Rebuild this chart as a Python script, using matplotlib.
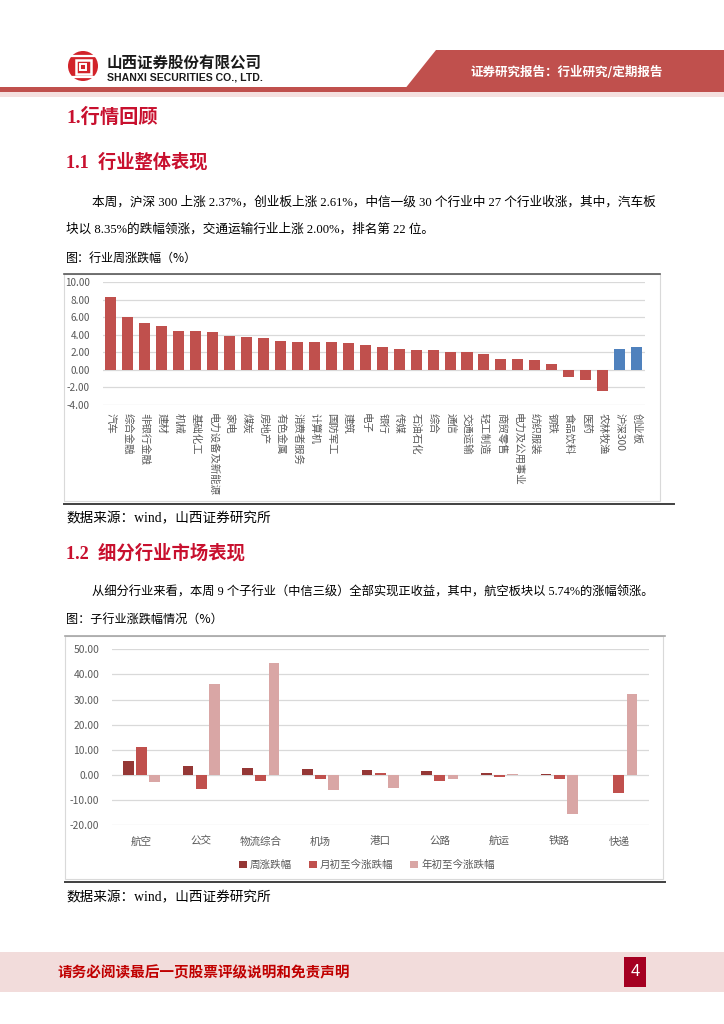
import matplotlib
matplotlib.use("Agg")
import matplotlib.pyplot as plt
import matplotlib.patches as mpatches
import numpy as np

# ---------------- data ----------------
industries = ["汽车", "综合金融", "非银行金融", "建材", "机械", "基础化工", "电力设备及新能源",
              "家电", "煤炭", "房地产", "有色金属", "消费者服务", "计算机", "国防军工", "建筑",
              "电子", "银行", "传媒", "石油石化", "综合", "通信", "交通运输", "轻工制造",
              "商贸零售", "电力及公用事业", "纺织服装", "钢铁", "食品饮料", "医药", "农林牧渔",
              "沪深300", "创业板"]
weekly_change = [8.35, 6.01, 5.40, 5.06, 4.44, 4.43, 4.37, 3.83, 3.79, 3.68, 3.30, 3.22,
                 3.18, 3.14, 3.03, 2.84, 2.63, 2.34, 2.26, 2.25, 2.03, 2.00, 1.84, 1.30,
                 1.29, 1.11, 0.73, -0.84, -1.11, -2.37, 2.37, 2.61]
index_names = ["沪深300", "创业板"]
y1_ticks = [-4, -2, 0, 2, 4, 6, 8, 10]

sub_industries = ["航空", "公交", "物流综合", "机场", "港口", "公路", "航运", "铁路", "快递"]
sub_week = [5.74, 3.45, 2.65, 2.40, 1.86, 1.46, 0.80, 0.40, 0.15]
sub_month = [11.0, -5.4, -2.5, -1.7, 0.8, -2.25, -0.9, -1.46, -7.0]
sub_ytd = [-2.9, 36.2, 44.5, -6.1, -5.0, -1.46, 0.4, -15.6, 32.1]
series_names = ["周涨跌幅", "月初至今涨跌幅", "年初至今涨跌幅"]
y2_ticks = [-20, -10, 0, 10, 20, 30, 40, 50]

# ---------------- page ----------------
W, H = 724, 1024
fig = plt.figure(figsize=(W / 100, H / 100), dpi=100)
fig.patch.set_facecolor("white")
renderer = fig.canvas.get_renderer()

ax0 = fig.add_axes([0, 0, 1, 1])
ax0.set_xlim(0, W)
ax0.set_ylim(H, 0)
ax0.axis("off")

SERIF = ["Liberation Serif", "Noto Sans CJK SC"]
SANS = ["Noto Sans CJK SC", "DejaVu Sans"]


def put(x0, y, s, target_w=None, size=9, ha="left", **kw):
    t = ax0.text(x0, y, s, fontsize=size, ha=ha, va="center", **kw)
    if target_w:
        bb = t.get_window_extent(renderer)
        t.set_fontsize(size * target_w / bb.width)
    return t


# header
ax0.add_patch(mpatches.Polygon([(436, 50), (724, 50), (724, 90), (404, 90)],
                               closed=True, color="#C0504D", lw=0))
ax0.add_patch(mpatches.Rectangle((0, 87), W, 5, color="#C0504D", lw=0))
ax0.add_patch(mpatches.Rectangle((0, 92), W, 5, color="#F5E0DF", lw=0))
put(470, 72, "证券研究报告：行业研究/定期报告", target_w=193, size=9,
    color="white", fontweight="bold", family=SANS)

# logo
ax0.add_patch(mpatches.Circle((83, 66), 15, color="#D2232A", lw=0))
ax0.add_patch(mpatches.Rectangle((75.5, 59.5), 15, 14, fill=False, ec="white", lw=1.8))
ax0.add_patch(mpatches.Rectangle((80, 63.5), 6, 6, fill=False, ec="white", lw=1.4))
ax0.plot([72, 94], [56, 56], color="white", lw=1.6)
ax0.plot([72, 94], [77, 77], color="white", lw=1.6)
put(107, 63, "山西证券股份有限公司", target_w=155, size=11, color="#1a1a1a",
    fontweight="bold", family=SANS)
put(107, 78, "SHANXI SECURITIES CO., LTD.", target_w=156, size=7, color="#1a1a1a",
    fontweight="bold", family=["Liberation Sans"])

# headings & text
RED = "#C8102E"
put(66, 117, "1.行情回顾", target_w=91, size=13, color=RED, fontweight="bold", family=SERIF)
put(66, 162, "1.1  行业整体表现", target_w=141, size=13, color=RED, fontweight="bold", family=SERIF)
t1 = put(92, 202, "本周，沪深 300 上涨 2.37%，创业板上涨 2.61%，中信一级 30 个行业中 27 个行业收涨，其中，汽车板",
         target_w=566, size=9, color="black", family=SERIF)
fs_body = t1.get_fontsize()
put(66, 229, "块以 8.35%的跌幅领涨，交通运输行业上涨 2.00%，排名第 22 位。",
    size=fs_body, color="black", family=SERIF)
put(66, 258, "图：行业周涨跌幅（%）", target_w=131, size=8.5, color="black", family=SANS)
put(66, 519, "数据来源：wind，山西证券研究所", target_w=203, size=8.5, color="black",
    fontweight="medium", family=SERIF)
put(66, 553, "1.2  细分行业市场表现", target_w=178, size=13, color=RED, fontweight="bold", family=SERIF)
put(92, 592, "从细分行业来看，本周 9 个子行业（中信三级）全部实现正收益，其中，航空板块以 5.74%的涨幅领涨。",
    target_w=565, size=9, color="black", family=SERIF)
put(66, 620, "图：子行业涨跌幅情况（%）", target_w=156, size=8.5, color="black", family=SANS)
put(66, 898, "数据来源：wind，山西证券研究所", target_w=203, size=8.5, color="black",
    fontweight="medium", family=SERIF)

# chart frames
ax0.add_patch(mpatches.Rectangle((64, 274), 596, 227, fill=False, ec="#D9D9D9", lw=0.8))
ax0.plot([64, 660], [274, 274], color="#595959", lw=1.2)
ax0.plot([64, 674], [504, 504], color="#404040", lw=1.4)
ax0.add_patch(mpatches.Rectangle((65, 636), 598, 243, fill=False, ec="#D9D9D9", lw=0.8))
ax0.plot([65, 665], [636, 636], color="#A6A6A6", lw=1.2)
ax0.plot([65, 665], [882, 882], color="#404040", lw=1.4)

# footer
ax0.add_patch(mpatches.Rectangle((0, 952), W, 40, color="#F2DCDB", lw=0))
ax0.add_patch(mpatches.Rectangle((624, 957), 22, 30, color="#A50021", lw=0))
put(635, 972, "4", size=12, ha="center", color="white", family=["Liberation Sans"])
put(58, 972, "请务必阅读最后一页股票评级说明和免责声明", target_w=292, size=10,
    color="#C00000", fontweight="bold", family=SANS)


def fig_rect(left, top, right, bottom):
    return [left / W, 1 - bottom / H, (right - left) / W, (bottom - top) / H]


TICK_C = "#595959"

# ---------------- chart 1 ----------------
ax1 = fig.add_axes(fig_rect(102.5, 282.3, 645, 405))
x1 = np.arange(len(industries))
colors1 = ["#4F81BD" if n in index_names else "#C0504D" for n in industries]
ax1.bar(x1, weekly_change, width=0.65, color=colors1, zorder=3)
ax1.set_xlim(-0.5, len(industries) - 0.5)
ax1.set_ylim(min(y1_ticks), max(y1_ticks))
ax1.set_yticks(y1_ticks)
ax1.set_yticklabels([f"{v:.2f}" for v in y1_ticks], fontsize=7.2, color=TICK_C, family=SANS)
ax1.set_xticks(x1)
ax1.set_xticklabels(industries, rotation=270, fontsize=7.5, color=TICK_C, family=SANS)
ax1.tick_params(axis="both", length=0)
ax1.tick_params(axis="y", pad=9)
ax1.tick_params(axis="x", pad=6)
for s in ax1.spines.values():
    s.set_visible(False)
ax1.yaxis.grid(True, color="#D9D9D9", lw=0.9, zorder=0)
ax1.set_axisbelow(True)
ax1.patch.set_alpha(0)

# ---------------- chart 2 ----------------
ax2 = fig.add_axes(fig_rect(111.7, 649.3, 648.7, 825.3))
x2 = np.arange(len(sub_industries))
c2 = ["#953735", "#C0504D", "#D9A6A5"]
hs = []
for i, (vals, col) in enumerate(zip([sub_week, sub_month, sub_ytd], c2)):
    h = ax2.bar(x2 + (i - 1) * 0.222, vals, width=0.18, color=col, zorder=3,
                label=series_names[i])
    hs.append(h)
ax2.set_xlim(-0.5, len(sub_industries) - 0.5)
ax2.set_ylim(min(y2_ticks), max(y2_ticks))
ax2.set_yticks(y2_ticks)
ax2.set_yticklabels([f"{v:.2f}" for v in y2_ticks], fontsize=7.4, color=TICK_C, family=SANS)
ax2.set_xticks(x2)
ax2.set_xticklabels(sub_industries, fontsize=7.6, color=TICK_C, family=SANS)
ax2.tick_params(axis="both", length=0)
ax2.tick_params(axis="y", pad=9)
ax2.tick_params(axis="x", pad=8)
for s in ax2.spines.values():
    s.set_visible(False)
ax2.yaxis.grid(True, color="#D9D9D9", lw=0.9, zorder=0)
ax2.set_axisbelow(True)
ax2.patch.set_alpha(0)
ax2.legend(hs, series_names, loc="center", bbox_to_anchor=(367 / W, 1 - 865 / H),
           bbox_transform=fig.transFigure, ncol=3, frameon=False,
           handlelength=0.75, handleheight=0.75, handletextpad=0.3, columnspacing=1.6,
           prop={"family": SANS, "size": 7.6}, labelcolor=TICK_C)

fig.savefig("out.png", dpi=100)
